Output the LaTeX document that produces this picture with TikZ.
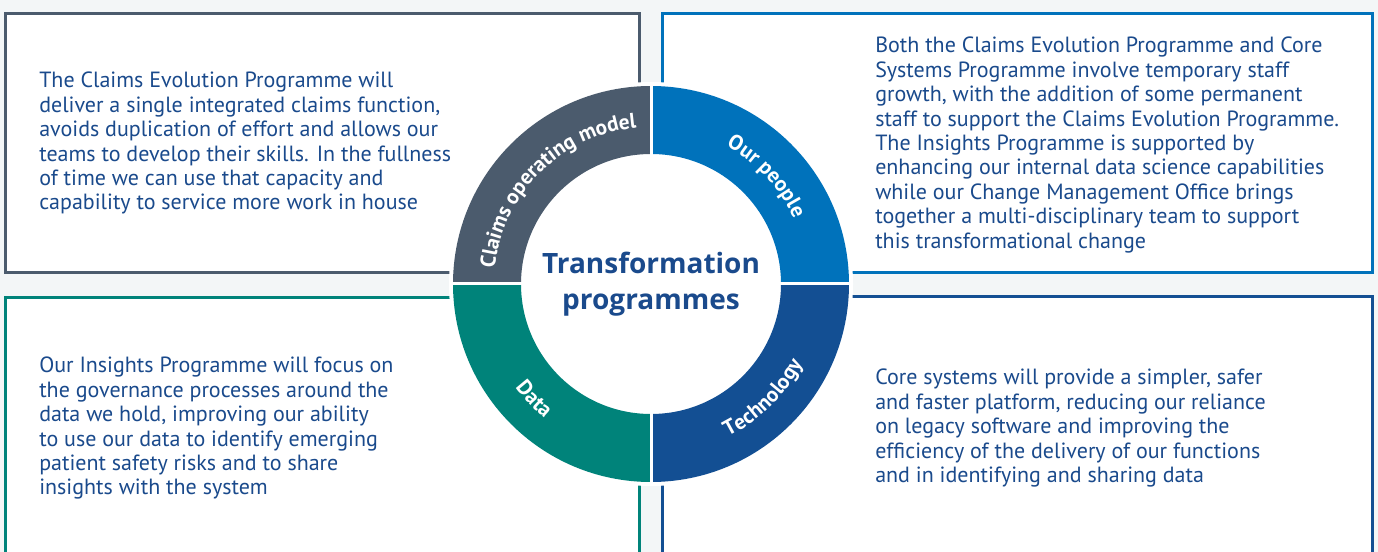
\documentclass[tikz,border=0pt]{standalone}
\usepackage{fontspec}
\setmainfont{PT Sans}
\newfontfamily\hubfont{Open Sans}
\usetikzlibrary{decorations.text}

\definecolor{pagebg}{HTML}{F3F6F7}
\definecolor{slate}{HTML}{4B5B6D}
\definecolor{peopleblue}{HTML}{0072BB}
\definecolor{techblue}{HTML}{134F93}
\definecolor{datateal}{HTML}{00837A}
\definecolor{inkblue}{HTML}{1A4A8C}

\tikzset{
  panel/.style={draw=#1, line width=2.25pt, fill=white},
  blurb/.style={anchor=north west, inner sep=0.75pt, align=left, text=inkblue, font=\fontsize{16.5}{18.3}\selectfont},
  seglabel/.style={decorate, decoration={text along path, text align=center, text color=white, text={|\bfseries\fontsize{16}{18}\selectfont|#1}}},
}

\begin{document}
\begin{tikzpicture}[x=0.75pt,y=0.75pt,yscale=-1,xscale=1]
\fill[pagebg] (0,0) rectangle (1378,552);
\clip (0,0) rectangle (1378,552);
\draw[panel=slate] (5,14) rectangle (639,273);
\draw[panel=peopleblue] (662,14) rectangle (1372,273);
\draw[panel=datateal] (5,298) rectangle (639,580);
\draw[panel=techblue] (662,297) rectangle (1372,580);
\draw (38,71) node (clmtxt) [blurb] {The Claims Evolution Programme will\\deliver a single integrated claims function,\\avoids duplication of effort and allows our\\teams to develop their skills. In the fullness\\of time we can use that capacity and\\capability to service more work in house};
\draw (874,36) node (pplTxt) [blurb] {Both the Claims Evolution Programme and Core\\Systems Programme involve temporary staff\\growth, with the addition of some permanent\\staff to support the Claims Evolution Programme.\\The Insights Programme is supported by\\enhancing our internal data science capabilities\\while our Change Management Office brings\\together a multi-disciplinary team to support\\this transformational change};
\draw (38,356) node (dataTxt) [blurb] {Our Insights Programme will focus on\\the governance processes around the\\data we hold, improving our ability\\to use our data to identify emerging\\patient safety risks and to share\\insights with the system};
\draw (874,368) node (techTxt) [blurb] {Core systems will provide a simpler, safer\\and faster platform, reducing our reliance\\on legacy software and improving the\\efficiency of the delivery of our functions\\and in identifying and sharing data};
\begin{scope}[shift={(651,284)},yscale=-1]
\fill[white] (0,0) circle (202);
\fill[slate] (180:198) arc[start angle=180,end angle=90,radius=198] -- (90:130) arc[start angle=90,end angle=180,radius=130] -- cycle;
\fill[peopleblue] (90:198) arc[start angle=90,end angle=0,radius=198] -- (0:130) arc[start angle=0,end angle=90,radius=130] -- cycle;
\fill[techblue] (0:198) arc[start angle=0,end angle=-90,radius=198] -- (-90:130) arc[start angle=-90,end angle=0,radius=130] -- cycle;
\fill[datateal] (-90:198) arc[start angle=-90,end angle=-180,radius=198] -- (-180:130) arc[start angle=-180,end angle=-90,radius=130] -- cycle;
\draw[white,line width=2.25pt] (-200,0) -- (200,0) (0,-200) -- (0,200);
\path[seglabel={Claims operating model}] (180:157) arc[start angle=180,end angle=89.6,radius=157];
\path[seglabel={Our people}] (88:157) arc[start angle=88,end angle=-2,radius=157];
\path[seglabel={Technology}] (-90.5:171) arc[start angle=-90.5,end angle=-0.5,radius=171];
\path[seglabel={Data}] (-180.5:171) arc[start angle=-180.5,end angle=-90.5,radius=171];
\end{scope}
\draw (651,284) node (hub) [align=center, text=inkblue, font=\hubfont\bfseries\fontsize{21}{26.5}\selectfont] {Transformation\\programmes};
\end{tikzpicture}
\end{document}
